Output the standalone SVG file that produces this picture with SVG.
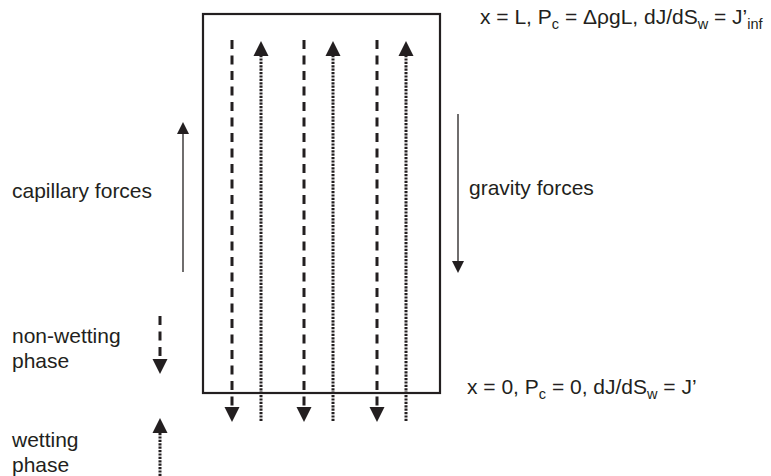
<svg xmlns="http://www.w3.org/2000/svg" width="771" height="476" viewBox="0 0 771 476">
<style>
text{font-family:"Liberation Sans",Arial,sans-serif;font-size:21px;fill:#231f20}
.sub{font-size:14.5px}
.dash{stroke:#231f20;stroke-width:3;stroke-dasharray:9 6.5;fill:none}
.dot{stroke:#231f20;stroke-width:3;stroke-dasharray:2.2 1.2;fill:none}
.thin{stroke:#231f20;stroke-width:1.3;fill:none}
.head{fill:#231f20}
</style>
<rect width="771" height="476" fill="#fff"/>
<g id="column">
<rect x="203" y="14" width="237" height="379" fill="none" stroke="#231f20" stroke-width="2.2"/>
</g>
<g id="connectors">
<g id="nonwetting-flow">
<line class="dash" x1="232" y1="40" x2="232" y2="408"/>
<polygon class="head" points="224.5,407 239.5,407 232,422"/>
<line class="dash" x1="304" y1="40" x2="304" y2="408"/>
<polygon class="head" points="296.5,407 311.5,407 304,422"/>
<line class="dash" x1="377" y1="40" x2="377" y2="408"/>
<polygon class="head" points="369.5,407 384.5,407 377,422"/>
</g>
<g id="wetting-flow">
<line class="dot" x1="261" y1="421" x2="261" y2="55"/>
<polygon class="head" points="253.5,56 268.5,56 261,41"/>
<line class="dot" x1="333" y1="421" x2="333" y2="55"/>
<polygon class="head" points="325.5,56 340.5,56 333,41"/>
<line class="dot" x1="406" y1="421" x2="406" y2="55"/>
<polygon class="head" points="398.5,56 413.5,56 406,41"/>
</g>
<g id="capillary-arrow">
<line class="thin" x1="183" y1="272" x2="183" y2="132"/>
<polygon class="head" points="177,134 189,134 183,122"/>
</g>
<g id="gravity-arrow">
<line class="thin" x1="458" y1="114" x2="458" y2="263"/>
<polygon class="head" points="452,261 464,261 458,273"/>
</g>
<g id="legend-nonwetting">
<line class="dash" x1="160" y1="316" x2="160" y2="360"/>
<polygon class="head" points="152.5,359 167.5,359 160,374"/>
</g>
<g id="legend-wetting">
<line class="dot" x1="160" y1="476" x2="160" y2="432"/>
<polygon class="head" points="152.5,433 167.5,433 160,418"/>
</g>
</g>
<g id="top-label"><text x="480" y="24">x = L, P<tspan class="sub" dy="4.5">c</tspan><tspan dy="-4.5"> = ΔρgL, dJ/dS</tspan><tspan class="sub" dy="4.5">w</tspan><tspan dy="-4.5"> = J’</tspan><tspan class="sub" dy="4.5">inf</tspan></text></g>
<g id="bottom-label"><text x="467" y="394">x = 0, P<tspan class="sub" dy="4.5">c</tspan><tspan dy="-4.5"> = 0, dJ/dS</tspan><tspan class="sub" dy="4.5">w</tspan><tspan dy="-4.5"> = J’</tspan></text></g>
<g id="capillary-label"><text x="12" y="198">capillary forces</text></g>
<g id="gravity-label"><text x="469" y="195">gravity forces</text></g>
<g id="nonwetting-label"><text x="12" y="343">non-wetting</text><text x="12" y="368">phase</text></g>
<g id="wetting-label"><text x="12" y="447">wetting</text><text x="12" y="472">phase</text></g>
</svg>
